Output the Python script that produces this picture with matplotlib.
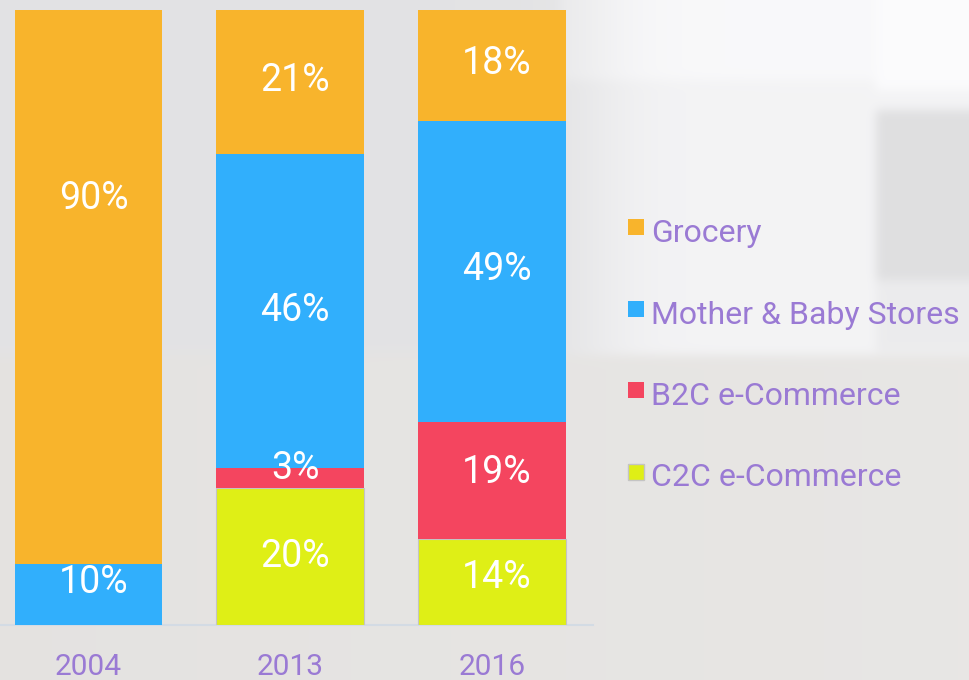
import numpy as np
import matplotlib
matplotlib.use('Agg')
import matplotlib.pyplot as plt
from matplotlib.patches import Rectangle

# ---------------- data ----------------
years = ['2004', '2013', '2016']
series = ['Grocery', 'Mother & Baby Stores', 'B2C e-Commerce', 'C2C e-Commerce']
grocery = [90, 21, 18]
mother_baby = [10, 46, 49]
b2c = [0, 3, 19]
c2c = [0, 20, 14]

# ---------------- style ----------------
plt.rcParams['font.family'] = ['Roboto', 'DejaVu Sans']
colors = {'Grocery': '#F8B42C', 'Mother & Baby Stores': '#31AFFC',
          'B2C e-Commerce': '#F4455F', 'C2C e-Commerce': '#DFEF16'}
edges = {'C2C e-Commerce': '#c4c4c4'}
purple = '#9A7AD4'
W, H, DPI = 970, 680, 100

# label vertical nudges (pixels, upward) per series / year
label_nudge = {'Grocery': [88, 1.5, 1.5], 'Mother & Baby Stores': [12, 0, 2],
               'B2C e-Commerce': [0, 10, 8], 'C2C e-Commerce': [0, 0, 4]}

fig = plt.figure(figsize=(W / DPI, H / DPI), dpi=DPI)

# ---------------- background (decorative photo-like gradient) ----------------
yy, xx = np.mgrid[0:H, 0:W]
sig = lambda t: 1.0 / (1.0 + np.exp(-t))
top = 0.89 + 0.065 * sig((xx - 600) / 25.0)
top = top + 0.02 * (yy < 80) * (xx > 560)
top = np.where((xx > 875) & (yy >= 110) & (yy < 280), 0.875, top)
top = np.where((xx > 875) & (yy >= 280) & (yy < 352), 0.925, top)
top = np.where((xx > 875) & (yy < 90), 0.985, top)
floor = 0.895 + 0.015 * (xx / W)
mask_floor = yy > 354
bg = np.zeros((H, W, 3))
tints_floor = [1.0, 0.993, 0.985]
tints_top = [1.0, 1.0, 1.006]
for c in range(3):
    bg[..., c] = np.where(mask_floor, floor * tints_floor[c], top * tints_top[c])


def blur(a, s):
    k = np.exp(-0.5 * (np.arange(-3 * s, 3 * s + 1) / s) ** 2)
    k /= k.sum()
    p = 3 * s
    out = np.empty_like(a)
    for c in range(3):
        ch = np.pad(a[..., c], p, mode='edge')
        ch = np.apply_along_axis(lambda r: np.convolve(r, k, mode='same'), 1, ch)
        ch = np.apply_along_axis(lambda r: np.convolve(r, k, mode='same'), 0, ch)
        out[..., c] = ch[p:-p, p:-p]
    return out


bg = np.clip(blur(bg, 5), 0, 1)
bax = fig.add_axes([0, 0, 1, 1], zorder=0)
bax.imshow(bg, aspect='auto', extent=[0, W, H, 0])
bax.axis('off')

# ---------------- bars ----------------
ax_left_px, ax_right_px, ax_top_px, ax_bot_px = 0, 593, 10, 625
ax = fig.add_axes([ax_left_px / W, 1 - ax_bot_px / H,
                   (ax_right_px - ax_left_px) / W, (ax_bot_px - ax_top_px) / H], zorder=1)
ax.patch.set_alpha(0)

x = np.arange(len(years))
step_px = 201.75
ax.set_xlim(-88.5 / step_px, -88.5 / step_px + (ax_right_px - ax_left_px) / step_px)
ax.set_ylim(0, 100)

data = {'Grocery': grocery, 'Mother & Baby Stores': mother_baby,
        'B2C e-Commerce': b2c, 'C2C e-Commerce': c2c}
totals = np.array([sum(data[s][i] for s in series) for i in range(len(years))], dtype=float)
stack_order = ['C2C e-Commerce', 'B2C e-Commerce', 'Mother & Baby Stores', 'Grocery']
bottom = np.zeros(len(years))
bar_w = 0.733
for s in stack_order:
    vals = np.array(data[s], dtype=float)
    h = vals / totals * 100
    ax.bar(x, h, bottom=bottom, width=bar_w, color=colors[s],
           edgecolor=edges.get(s, 'none'), linewidth=0.8 if s in edges else 0, zorder=3)
    for i in range(len(years)):
        if vals[i] > 0:
            ax.annotate(f'{int(vals[i])}%', (x[i], bottom[i] + h[i] / 2),
                        xytext=(5 * 0.72, label_nudge[s][i] * 0.72), textcoords='offset points',
                        ha='center', va='center', color='white', fontsize=27, zorder=4)
    bottom += h

for sp in ['top', 'right', 'left']:
    ax.spines[sp].set_visible(False)
ax.spines['bottom'].set_color('#d3dbe4')
ax.spines['bottom'].set_linewidth(1.5)
ax.spines['bottom'].set_zorder(2)
ax.set_yticks([])
ax.set_xticks(x, years)
ax.tick_params(axis='x', length=0, pad=20, labelsize=21.5, labelcolor=purple)

# ---------------- legend ----------------
row0_top, row_step = 219, 81.5
for i, s in enumerate(series):
    ytop = row0_top + row_step * i
    fig.patches.append(Rectangle((628 / W, 1 - (ytop + 16) / H), 16 / W, 16 / H,
                                 transform=fig.transFigure, facecolor=colors[s],
                                 edgecolor=edges.get(s, 'none'), linewidth=1.0 if s in edges else 0,
                                 zorder=5))
    fig.text(651 / W, 1 - (ytop + 23) / H, s, fontsize=23, color=purple,
             ha='left', va='baseline', zorder=5)

fig.savefig('out.png', dpi=DPI)
